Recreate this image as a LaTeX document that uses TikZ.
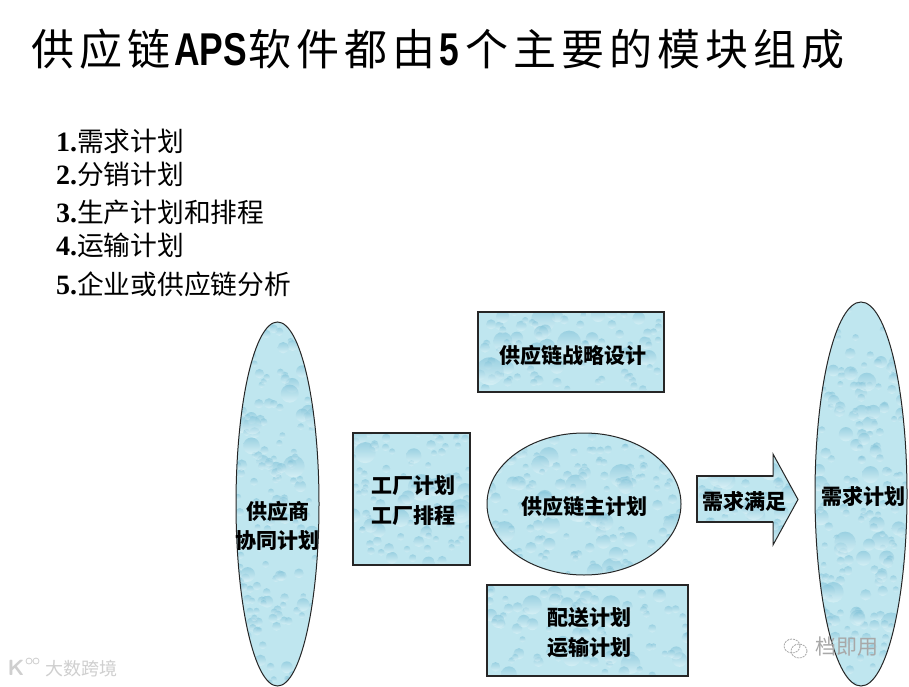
\documentclass[tikz,border=0pt]{standalone}
\usepackage{fontspec}
\usetikzlibrary{shapes.geometric}
\setmainfont{Liberation Serif}
\newfontfamily\cjk{Noto Sans CJK SC}
\newfontfamily\cjktitle[LetterSpace=11.5]{Noto Sans CJK SC}
\newfontfamily\lattitle[FakeStretch=0.77]{Liberation Sans}
\definecolor{waterbase}{HTML}{BFE6EF}
\definecolor{waterdeep}{HTML}{7DC0D7}
\definecolor{waterpale}{HTML}{E6F7FA}
\definecolor{markgray}{HTML}{CFCFCF}
\definecolor{markgrayb}{HTML}{A8A8A8}
\newcommand\waterdrops[3]{%
  \pgfmathsetseed{#3}%
  \pgfmathtruncatemacro\dropcount{(#1/13)*(#2/13)}%
  \foreach \k in {1,...,\dropcount}{%
    \pgfmathsetmacro\dx{(rnd-0.5)*#1}%
    \pgfmathsetmacro\dy{(rnd-0.5)*#2}%
    \pgfmathsetmacro\rr{3+13*rnd*rnd*rnd}%
    \path (path picture bounding box.center) ++(\dx pt,\dy pt) coordinate (dropc);
    \shade[top color=waterdeep,bottom color=waterpale,opacity=.55]
      (dropc) circle[radius=\rr pt];
  }%
}
\tikzset{
  x=1pt,y=-1pt,
  water/.style n args={3}{draw=black!85,fill=waterbase,inner sep=0pt,
    path picture={\waterdrops{#1}{#2}{#3}}},
  waterrect/.style n args={3}{rectangle,water={#1}{#2}{#3},minimum width=#1pt,minimum height=#2pt,line width=1.5pt},
  waterell/.style n args={3}{ellipse,water={#1}{#2}{#3},minimum width=#1pt,minimum height=#2pt,line width=1pt},
  boxlabel/.style={font=\cjk\bfseries\fontsize{21}{30}\selectfont,align=center,text=black,inner sep=0pt},
  listitem/.style={anchor=west,inner sep=0pt,text=black,font=\fontsize{28}{30}\selectfont\bfseries}
}
\newcommand\li[2]{#1.{\cjk\mdseries\fontsize{26.75}{30}\selectfont #2}}
\begin{document}
\begin{tikzpicture}
\useasboundingbox (0,0) rectangle (909,687);
\fill[white] (0,0) rectangle (909,687);
% title
\node[anchor=west,inner sep=0pt,text=black] (title) at (31,49) {%
  {\cjktitle\fontsize{43}{46}\selectfont 供应链}\hspace{4pt}%
  {\lattitle\bfseries\fontsize{46}{46}\selectfont APS}\hspace{2pt}%
  {\cjktitle\fontsize{43}{46}\selectfont 软件都由}\hspace{4pt}%
  {\lattitle\bfseries\fontsize{46}{46}\selectfont 5}\hspace{6pt}%
  {\cjktitle\fontsize{43}{46}\selectfont 个主要的模块组成}};
% list
\node[listitem] (l1) at (56,141) {\li{1}{需求计划}};
\node[listitem] (l2) at (56,174) {\li{2}{分销计划}};
\node[listitem] (l3) at (56,212) {\li{3}{生产计划和排程}};
\node[listitem] (l4) at (56,245) {\li{4}{运输计划}};
\node[listitem] (l5) at (56,284) {\li{5}{企业或供应链分析}};
% shapes
\node[waterell={83}{364}{11}] (supplier) at (277.5,504) {};
\node[waterrect={186}{80}{12}] (strategy) at (571,352) {};
\node[waterrect={117}{132}{13}] (factory) at (411.5,499) {};
\node[waterell={194}{142}{14}] (master) at (584,504) {};
\node[waterrect={201}{91}{15}] (delivery) at (587.5,630.5) {};
\node[waterell={92}{384}{16}] (demand) at (861,494) {};
\path[draw=black!85,line width=1pt,fill=waterbase,path picture={\waterdrops{101}{91}{17}}]
  (697,476) -- (773,476) -- (773,454) -- (798,499.5) -- (773,545) -- (773,522) -- (697,522) -- cycle;
\draw[black!85,line width=1.5pt] (773,476) -- (697,476) -- (697,522) -- (773,522);
% labels
\node[boxlabel] (supplierT) at (277.5,526) {供应商\\[-1pt]协同计划};
\node[boxlabel] (strategyT) at (573,355) {供应链战略设计};
\node[boxlabel] (factoryT) at (413,501) {工厂计划\\工厂排程};
\node[boxlabel] (masterT) at (584.5,506) {供应链主计划};
\node[boxlabel] (deliveryT) at (589.5,633) {配送计划\\运输计划};
\node[boxlabel] (arrowT) at (744.5,501) {需求满足};
\node[boxlabel] (demandT) at (863.5,496) {需求计划};
% watermarks
\node[inner sep=0pt,text=markgray,font=\cjk\fontsize{18}{20}\selectfont] (wmA) at (81.5,669) {大数跨境};
\node[inner sep=0pt,text=markgray,font=\sffamily\bfseries\fontsize{22}{22}\selectfont] (wmK) at (16,668) {K};
\draw[markgray,line width=.8pt] (29,661) circle[radius=3] (36,661) circle[radius=3];
\node[inner sep=0pt,text=markgrayb,font=\cjk\fontsize{21}{24}\selectfont] (wmB) at (846.5,647) {档即用};
\draw[markgrayb,line width=.8pt,dash pattern=on 2pt off 1pt] (792,646) ellipse[x radius=8,y radius=7];
\draw[markgrayb,line width=.8pt,dash pattern=on 2pt off 1pt] (799,651) ellipse[x radius=8,y radius=7];
\end{tikzpicture}
\end{document}
